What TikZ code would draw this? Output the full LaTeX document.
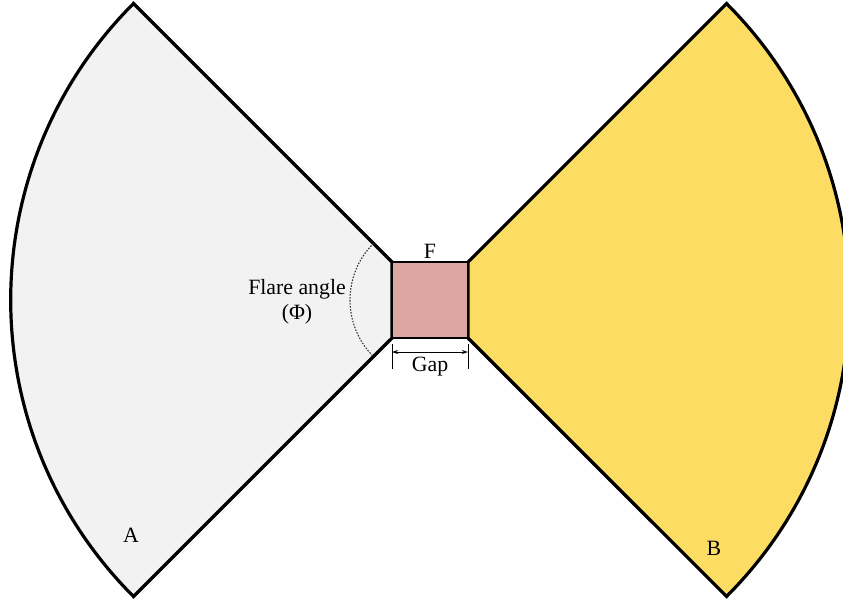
\documentclass[tikz,border=0pt]{standalone}
\usepackage{fontspec}
\setmainfont{Liberation Serif}
\usetikzlibrary{arrows.meta,calc}
\definecolor{leftfill}{HTML}{F2F2F2}
\definecolor{rightfill}{HTML}{FDDC64}
\definecolor{feedfill}{HTML}{DDA6A3}
\tikzset{
  sector/.style={line width=3.2pt, line join=miter},
  feedbox/.style={draw, line width=2pt, fill=feedfill},
  lbl/.style={font=\fontsize{21.8}{25}\selectfont, inner sep=0pt, anchor=base},
  thinline/.style={line width=1pt},
}
\begin{document}
\begin{tikzpicture}[x=1pt,y=-1pt]
\useasboundingbox (0,0) rectangle (843,603);
\coordinate (c) at (430,300);
% left sector
\draw[sector, fill=leftfill] (392,262) -- (133.5,3.5)
  arc[start angle=225, end angle=135, radius=419.3] -- (392,338) -- cycle;
% right sector
\draw[sector, fill=rightfill] (468,262) -- (726.5,3.5)
  arc[start angle=-45, end angle=45, radius=419.3] -- (468,338) -- cycle;
% feed
\node[feedbox, minimum width=76pt, minimum height=76pt, inner sep=0pt] (feed) at (c) {};
% flare angle arc
\draw[line width=1.1pt, dash pattern=on 1.5pt off 1.5pt, black!80] ($(c)+(225:80)$) arc[start angle=225, end angle=135, radius=80];
% gap dimension
\coordinate (g1) at (392,352);
\coordinate (g2) at (468,352);
\draw[thinline] (392,344) -- (392,369);
\draw[thinline] (468,344) -- (468,369);
\draw[thinline, {Stealth[length=6pt,width=4pt]}-{Stealth[length=6pt,width=4pt]}] (g1) -- (g2);
% labels
\node[lbl] (gap) at (430,371) {Gap};
\node[lbl] (F) at (430,258) {F};
\node[lbl] (flare) at (297,294) {Flare angle};
\node[lbl] (phi) at (297,319) {(Φ)};
\node[lbl] (A) at (131,542) {A};
\node[lbl] (B) at (714,555) {B};
\end{tikzpicture}
\end{document}
